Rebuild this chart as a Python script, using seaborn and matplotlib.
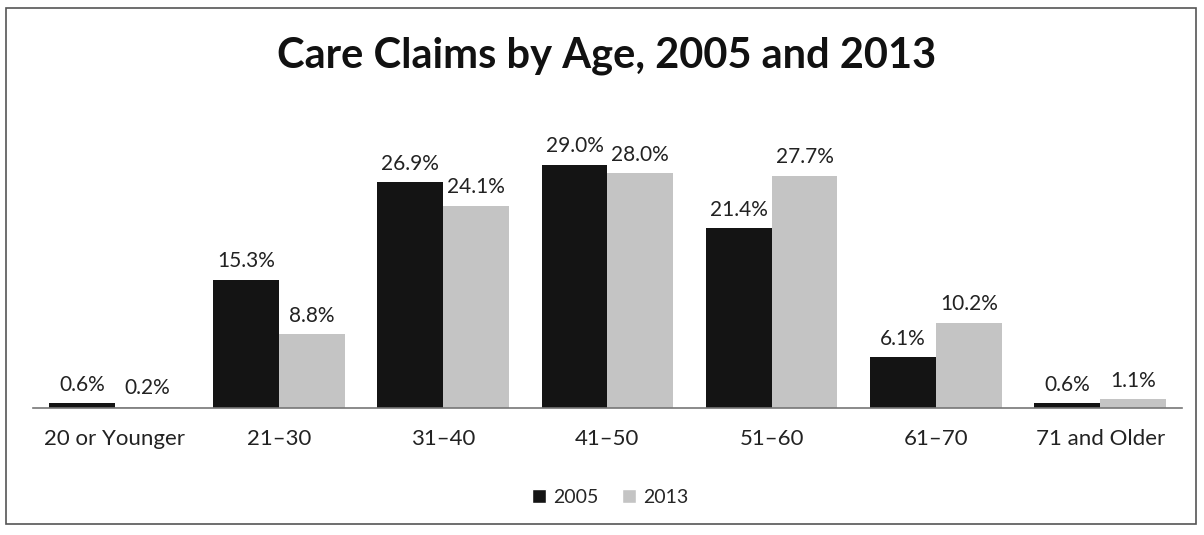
import pandas as pd
import matplotlib.pyplot as plt
import matplotlib.patches as mpatches
import seaborn as sns

# chart data
age_groups = ['20 or Younger', '21\u201330', '31\u201340', '41\u201350', '51\u201360', '61\u201370', '71 and Older']
years = ['2005', '2013']
share_2005 = [0.6, 15.3, 26.9, 29.0, 21.4, 6.1, 0.6]
share_2013 = [0.2, 8.8, 24.1, 28.0, 27.7, 10.2, 1.1]
bar_colors = ['#141414', '#c4c4c4']

df = pd.DataFrame({
    'age': age_groups * 2,
    'year': [years[0]] * len(age_groups) + [years[1]] * len(age_groups),
    'share': share_2005 + share_2013,
})

sns.set_theme(style='white')
plt.rcParams['font.family'] = ['Lato', 'DejaVu Sans']

fig = plt.figure(figsize=(12.04, 5.35), dpi=100)
ax = fig.add_axes([0.027, 0.237, 0.955, 0.471])

sns.barplot(data=df, x='age', y='share', hue='year', order=age_groups,
            hue_order=years, palette=bar_colors, width=0.8, gap=0,
            saturation=1, linewidth=0, ax=ax, legend=False)

for cont in ax.containers:
    ax.bar_label(cont, fmt='%.1f%%', padding=6, fontsize=15, color='#222222', clip_on=False)

ax.set_ylim(0, 30)
ax.set_xlim(-0.5, len(age_groups) - 0.5)
ax.set_yticks([])
ax.set_xlabel('')
ax.set_ylabel('')
ax.tick_params(axis='x', length=0, labelsize=16, pad=15, colors='#222222')
for s in ['top', 'left', 'right']:
    ax.spines[s].set_visible(False)
ax.spines['bottom'].set_color('#777777')
ax.spines['bottom'].set_linewidth(1.2)

fig.text(0.504, 0.873, 'Care Claims by Age, 2005 and 2013', ha='center', va='baseline',
         fontsize=30, fontweight='bold', color='#111111')

handles = [mpatches.Patch(facecolor=c, label=y) for c, y in zip(bar_colors, years)]
fig.legend(handles=handles, loc='center', bbox_to_anchor=(0.507, 0.071), ncol=2,
           frameon=False, fontsize=14, handlelength=0.7, handleheight=0.7,
           handletextpad=0.4, columnspacing=1.2)

# outer frame
fig.patches.append(mpatches.Rectangle((0.005, 0.02), 0.988, 0.965, transform=fig.transFigure,
                                      fill=False, edgecolor='#555555', linewidth=1.2))

fig.savefig('out.png', dpi=100)
